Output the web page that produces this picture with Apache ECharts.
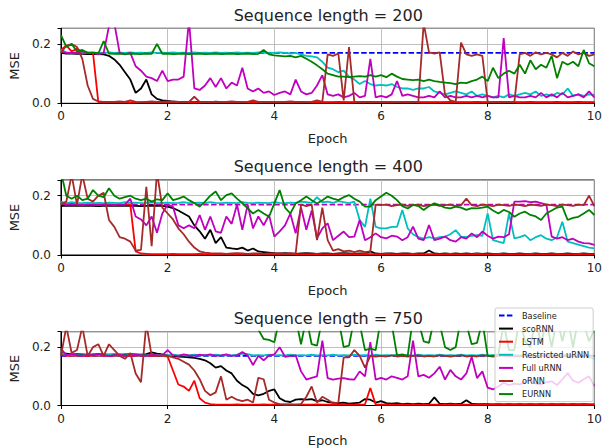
<!DOCTYPE html>
<html><head><meta charset="utf-8">
<script src="https://cdn.jsdelivr.net/npm/echarts@6/dist/echarts.min.js"></script>
<style>html,body{margin:0;padding:0;background:#fff}#c{width:605px;height:448px}</style>
</head><body><div id="c"></div><script>
// ---------- DATA ----------
const seriesNames = ['Baseline','scoRNN','LSTM','Restricted uRNN','Full uRNN','oRNN','EURNN'];
const titles = ['Sequence length = 200','Sequence length = 400','Sequence length = 750'];
const xTicks = [0,2,4,6,8,10];
const yTicks = [0,0.2];
const epochs = Array.from({length:101},(_,i)=>+(i/10).toFixed(1));
const baselineX = [0,10];
const baseline200 = [0.17,0.17];
const baseline400 = [0.17,0.17];
const baseline750 = [0.17,0.17];

// Sequence length 200
const sco200 = [0.170,0.168,0.168,0.167,0.167,0.166,0.166,0.166,0.165,0.160,
0.148,0.130,0.105,0.080,0.035,0.050,0.080,0.030,0.015,0.010,
0.008,0.006,0.005,0.005,0.004,0.004,0.005,0.004,0.003,0.006,
0.004,0.003,0.003,0.004,0.003,0.003,0.004,0.003,0.003,0.003,
0.003,0.004,0.003,0.003,0.003,0.004,0.003,0.003,0.003,0.003,
0.003,0.003,0.004,0.003,0.003,0.003,0.003,0.004,0.003,0.003,
0.003,0.004,0.003,0.003,0.003,0.003,0.004,0.003,0.003,0.003,
0.003,0.003,0.003,0.004,0.003,0.003,0.003,0.003,0.004,0.003,
0.003,0.003,0.004,0.003,0.003,0.003,0.003,0.003,0.004,0.003,
0.003,0.003,0.003,0.004,0.003,0.003,0.003,0.004,0.003,0.003,
0.003];
const lstm200 = [0.180,0.195,0.175,0.185,0.172,0.170,0.170,0.004,0.003,0.004,
0.003,0.003,0.004,0.003,0.003,0.003,0.004,0.003,0.003,0.003,
0.003,0.004,0.003,0.003,0.003,0.003,0.004,0.003,0.003,0.003,
0.003,0.003,0.003,0.004,0.003,0.003,0.003,0.003,0.004,0.003,
0.003,0.003,0.004,0.003,0.003,0.003,0.003,0.003,0.004,0.003,
0.003,0.003,0.003,0.004,0.003,0.003,0.003,0.004,0.003,0.003,
0.003,0.004,0.003,0.003,0.003,0.003,0.004,0.003,0.003,0.003,
0.003,0.003,0.003,0.004,0.003,0.003,0.003,0.003,0.004,0.003,
0.003,0.003,0.004,0.003,0.003,0.003,0.003,0.003,0.004,0.003,
0.003,0.003,0.003,0.004,0.003,0.003,0.003,0.004,0.003,0.003,
0.003];
const restr200 = [0.180,0.172,0.170,0.172,0.170,0.172,0.170,0.171,0.170,0.172,
0.170,0.171,0.170,0.172,0.170,0.171,0.170,0.172,0.170,0.171,
0.170,0.172,0.170,0.171,0.170,0.172,0.170,0.171,0.170,0.172,
0.170,0.171,0.170,0.172,0.170,0.171,0.170,0.172,0.170,0.171,
0.170,0.172,0.170,0.168,0.170,0.165,0.160,0.158,0.155,0.140,
0.120,0.115,0.105,0.110,0.090,0.080,0.065,0.075,0.065,0.060,
0.062,0.060,0.065,0.055,0.050,0.050,0.045,0.050,0.050,0.055,
0.040,0.035,0.030,0.035,0.040,0.035,0.030,0.040,0.025,0.030,
0.025,0.020,0.025,0.020,0.030,0.025,0.030,0.035,0.030,0.040,
0.025,0.030,0.025,0.035,0.030,0.050,0.025,0.030,0.025,0.030,
0.028];
const full200 = [0.175,0.170,0.170,0.170,0.175,0.170,0.170,0.165,0.170,0.260,
0.270,0.170,0.165,0.170,0.125,0.110,0.090,0.085,0.075,0.110,
0.075,0.080,0.080,0.090,0.280,0.050,0.045,0.060,0.085,0.055,
0.085,0.050,0.070,0.060,0.120,0.050,0.040,0.050,0.035,0.040,
0.028,0.035,0.040,0.030,0.080,0.040,0.030,0.035,0.060,0.095,
0.030,0.025,0.030,0.020,0.025,0.035,0.020,0.025,0.150,0.020,
0.025,0.020,0.030,0.075,0.025,0.030,0.025,0.020,0.020,0.025,
0.020,0.040,0.020,0.025,0.020,0.020,0.025,0.020,0.025,0.020,
0.025,0.020,0.020,0.220,0.020,0.025,0.020,0.020,0.025,0.020,
0.035,0.020,0.030,0.020,0.035,0.020,0.025,0.030,0.020,0.040,
0.020];
const orn200 = [0.170,0.195,0.200,0.190,0.150,0.060,0.015,0.006,0.005,0.005,
0.005,0.006,0.005,0.010,0.005,0.004,0.005,0.006,0.005,0.005,
0.006,0.005,0.005,0.004,0.005,0.022,0.005,0.004,0.005,0.005,
0.004,0.005,0.006,0.005,0.004,0.005,0.010,0.005,0.004,0.005,
0.005,0.004,0.005,0.006,0.005,0.005,0.004,0.005,0.010,0.005,
0.165,0.160,0.168,0.010,0.190,0.005,0.005,0.004,0.005,0.005,
0.004,0.005,0.005,0.004,0.005,0.005,0.004,0.005,0.270,0.172,
0.168,0.172,0.030,0.010,0.005,0.205,0.165,0.160,0.165,0.160,
0.005,0.004,0.005,0.005,0.004,0.005,0.165,0.170,0.160,0.172,
0.165,0.170,0.165,0.155,0.170,0.160,0.175,0.165,0.170,0.160,
0.165];
const eurnn200 = [0.230,0.190,0.200,0.175,0.180,0.170,0.172,0.168,0.210,0.168,
0.167,0.168,0.166,0.168,0.167,0.166,0.168,0.167,0.200,0.167,
0.168,0.166,0.167,0.168,0.166,0.167,0.168,0.166,0.167,0.168,
0.166,0.167,0.168,0.166,0.167,0.168,0.166,0.167,0.180,0.165,
0.162,0.160,0.158,0.160,0.155,0.160,0.150,0.140,0.128,0.115,
0.100,0.095,0.090,0.090,0.088,0.090,0.092,0.090,0.095,0.090,
0.095,0.088,0.100,0.090,0.082,0.080,0.078,0.080,0.075,0.080,
0.075,0.072,0.070,0.068,0.065,0.070,0.068,0.075,0.080,0.090,
0.075,0.120,0.085,0.100,0.110,0.100,0.130,0.100,0.145,0.115,
0.130,0.120,0.160,0.085,0.140,0.130,0.140,0.125,0.180,0.135,
0.125];

// Sequence length 400
const sco400 = [0.166,0.167,0.166,0.166,0.167,0.166,0.166,0.165,0.166,0.167,
0.166,0.166,0.167,0.166,0.166,0.165,0.166,0.167,0.166,0.166,
0.163,0.158,0.150,0.140,0.130,0.100,0.080,0.055,0.085,0.040,
0.060,0.025,0.022,0.020,0.025,0.015,0.022,0.012,0.010,0.008,
0.006,0.005,0.006,0.005,0.004,0.005,0.006,0.005,0.004,0.005,
0.005,0.004,0.005,0.006,0.005,0.004,0.005,0.005,0.012,0.005,
0.004,0.005,0.005,0.004,0.005,0.005,0.004,0.005,0.005,0.015,
0.005,0.004,0.005,0.004,0.005,0.004,0.005,0.004,0.005,0.004,
0.005,0.004,0.004,0.005,0.004,0.004,0.005,0.004,0.004,0.005,
0.004,0.004,0.005,0.004,0.004,0.005,0.004,0.004,0.005,0.004,
0.004];
const lstm400 = [0.175,0.170,0.170,0.170,0.170,0.170,0.170,0.170,0.170,0.170,
0.170,0.170,0.170,0.170,0.012,0.005,0.004,0.003,0.003,0.003,
0.003,0.004,0.003,0.003,0.003,0.003,0.004,0.003,0.003,0.003,
0.003,0.003,0.003,0.004,0.003,0.003,0.003,0.003,0.004,0.003,
0.003,0.003,0.004,0.003,0.003,0.003,0.003,0.003,0.004,0.003,
0.003,0.003,0.003,0.004,0.003,0.003,0.003,0.004,0.003,0.003,
0.003,0.004,0.003,0.003,0.003,0.003,0.004,0.003,0.003,0.003,
0.003,0.003,0.003,0.004,0.003,0.003,0.003,0.003,0.004,0.003,
0.003,0.003,0.004,0.003,0.003,0.003,0.003,0.003,0.004,0.003,
0.003,0.003,0.003,0.004,0.003,0.003,0.003,0.004,0.003,0.003,
0.003];
const restr400 = [0.180,0.175,0.178,0.176,0.175,0.177,0.175,0.176,0.175,0.177,
0.176,0.175,0.178,0.176,0.177,0.175,0.176,0.178,0.175,0.176,
0.177,0.175,0.176,0.178,0.175,0.176,0.177,0.175,0.178,0.176,
0.175,0.177,0.176,0.175,0.178,0.176,0.175,0.177,0.176,0.175,
0.178,0.176,0.175,0.177,0.176,0.180,0.178,0.176,0.195,0.178,
0.180,0.176,0.182,0.178,0.175,0.180,0.118,0.095,0.190,0.095,
0.090,0.090,0.095,0.095,0.152,0.090,0.070,0.060,0.055,0.060,
0.056,0.060,0.062,0.070,0.084,0.062,0.060,0.065,0.067,0.065,
0.140,0.050,0.045,0.040,0.140,0.056,0.060,0.067,0.050,0.060,
0.067,0.055,0.050,0.060,0.112,0.045,0.040,0.035,0.030,0.025,
0.022];
const full400 = [0.175,0.170,0.172,0.170,0.168,0.170,0.170,0.168,0.170,0.170,
0.168,0.170,0.170,0.190,0.130,0.120,0.100,0.130,0.075,0.140,
0.170,0.163,0.100,0.090,0.100,0.090,0.135,0.085,0.130,0.080,
0.075,0.130,0.105,0.170,0.085,0.170,0.090,0.130,0.100,0.135,
0.062,0.080,0.100,0.140,0.073,0.160,0.085,0.150,0.056,0.090,
0.107,0.050,0.065,0.079,0.060,0.062,0.118,0.050,0.060,0.073,
0.060,0.056,0.065,0.062,0.050,0.060,0.096,0.055,0.050,0.101,
0.050,0.055,0.062,0.050,0.045,0.060,0.055,0.073,0.060,0.079,
0.065,0.055,0.062,0.060,0.070,0.180,0.180,0.182,0.178,0.180,
0.175,0.170,0.062,0.055,0.060,0.050,0.055,0.045,0.040,0.039,
0.034];
const orn400 = [0.170,0.180,0.270,0.170,0.270,0.190,0.180,0.200,0.210,0.118,
0.095,0.060,0.055,0.045,0.015,0.017,0.230,0.030,0.280,0.160,
0.140,0.120,0.090,0.070,0.045,0.025,0.012,0.008,0.006,0.005,
0.005,0.004,0.005,0.006,0.005,0.004,0.005,0.005,0.004,0.005,
0.005,0.005,0.004,0.005,0.005,0.170,0.165,0.170,0.050,0.160,
0.050,0.015,0.020,0.012,0.015,0.010,0.015,0.010,0.012,0.170,
0.168,0.170,0.165,0.168,0.170,0.166,0.168,0.170,0.165,0.168,
0.170,0.166,0.168,0.170,0.165,0.168,0.190,0.168,0.165,0.170,
0.168,0.165,0.170,0.168,0.166,0.170,0.168,0.165,0.170,0.168,
0.166,0.170,0.168,0.165,0.170,0.168,0.166,0.170,0.168,0.200,
0.165];
const eurnn400 = [0.280,0.200,0.190,0.200,0.185,0.190,0.219,0.200,0.195,0.225,
0.200,0.190,0.195,0.200,0.190,0.185,0.190,0.180,0.188,0.185,
0.208,0.185,0.190,0.197,0.185,0.175,0.163,0.180,0.200,0.214,
0.185,0.202,0.208,0.190,0.175,0.157,0.140,0.152,0.140,0.129,
0.174,0.219,0.160,0.140,0.174,0.185,0.197,0.185,0.174,0.185,
0.197,0.190,0.185,0.195,0.202,0.190,0.180,0.163,0.163,0.185,
0.197,0.210,0.200,0.185,0.165,0.157,0.169,0.165,0.152,0.165,
0.174,0.168,0.160,0.157,0.163,0.160,0.152,0.158,0.157,0.160,
0.163,0.150,0.140,0.152,0.145,0.129,0.140,0.146,0.135,0.130,
0.118,0.140,0.150,0.160,0.163,0.118,0.125,0.129,0.140,0.152,
0.135];

// Sequence length 750
const sco750 = [0.180,0.178,0.175,0.176,0.175,0.174,0.175,0.176,0.175,0.174,
0.175,0.174,0.175,0.176,0.175,0.174,0.176,0.182,0.178,0.175,
0.172,0.170,0.168,0.167,0.165,0.163,0.160,0.155,0.145,0.130,
0.135,0.120,0.110,0.085,0.070,0.060,0.040,0.035,0.040,0.050,
0.055,0.025,0.015,0.012,0.020,0.022,0.020,0.022,0.015,0.018,
0.012,0.010,0.008,0.010,0.006,0.008,0.010,0.022,0.020,0.010,
0.015,0.008,0.006,0.008,0.005,0.006,0.005,0.006,0.005,0.006,
0.028,0.006,0.005,0.006,0.005,0.006,0.018,0.006,0.005,0.005,
0.005,0.004,0.005,0.004,0.005,0.004,0.005,0.004,0.005,0.004,
0.005,0.004,0.005,0.004,0.005,0.004,0.005,0.004,0.005,0.004,
0.004];
const lstm750 = [0.175,0.170,0.170,0.170,0.170,0.170,0.170,0.170,0.170,0.170,
0.170,0.170,0.170,0.170,0.170,0.170,0.170,0.170,0.170,0.170,
0.168,0.120,0.072,0.065,0.050,0.085,0.025,0.010,0.005,0.003,
0.003,0.003,0.003,0.004,0.003,0.003,0.003,0.003,0.004,0.003,
0.003,0.003,0.004,0.003,0.003,0.003,0.003,0.003,0.004,0.003,
0.003,0.003,0.003,0.004,0.003,0.003,0.003,0.004,0.060,0.003,
0.003,0.004,0.003,0.003,0.003,0.003,0.004,0.003,0.003,0.003,
0.003,0.003,0.003,0.004,0.003,0.003,0.003,0.003,0.004,0.003,
0.003,0.003,0.004,0.003,0.003,0.003,0.003,0.003,0.004,0.003,
0.003,0.003,0.003,0.004,0.003,0.003,0.003,0.004,0.003,0.003,
0.003];
const restr750 = [0.180,0.174,0.172,0.173,0.172,0.174,0.172,0.173,0.172,0.174,
0.172,0.173,0.172,0.174,0.172,0.173,0.172,0.174,0.172,0.173,
0.172,0.174,0.172,0.173,0.172,0.174,0.172,0.173,0.172,0.174,
0.172,0.173,0.172,0.174,0.178,0.176,0.172,0.173,0.172,0.174,
0.172,0.173,0.172,0.174,0.172,0.173,0.172,0.174,0.172,0.173,
0.172,0.174,0.172,0.173,0.172,0.174,0.172,0.173,0.172,0.174,
0.172,0.173,0.172,0.174,0.172,0.173,0.172,0.174,0.172,0.173,
0.172,0.174,0.172,0.173,0.172,0.174,0.172,0.173,0.172,0.174,
0.172,0.173,0.172,0.174,0.172,0.173,0.172,0.174,0.172,0.173,
0.172,0.174,0.172,0.173,0.172,0.174,0.172,0.173,0.170,0.165,
0.160];
const full750 = [0.195,0.172,0.175,0.172,0.170,0.174,0.172,0.175,0.172,0.170,
0.172,0.175,0.170,0.172,0.174,0.172,0.170,0.175,0.172,0.172,
0.190,0.172,0.170,0.175,0.172,0.170,0.174,0.172,0.175,0.170,
0.172,0.175,0.170,0.172,0.183,0.172,0.139,0.170,0.155,0.172,
0.175,0.200,0.167,0.170,0.172,0.117,0.089,0.095,0.100,0.222,
0.094,0.089,0.092,0.094,0.090,0.089,0.117,0.100,0.217,0.089,
0.095,0.089,0.100,0.095,0.089,0.100,0.222,0.100,0.105,0.095,
0.110,0.133,0.089,0.122,0.100,0.089,0.110,0.167,0.094,0.117,
0.061,0.055,0.065,0.078,0.070,0.075,0.072,0.080,0.089,0.075,
0.072,0.080,0.083,0.070,0.090,0.111,0.085,0.078,0.090,0.100,
0.067];
const orn750 = [0.170,0.270,0.180,0.190,0.270,0.170,0.200,0.210,0.170,0.210,
0.190,0.170,0.160,0.180,0.110,0.080,0.280,0.170,0.170,0.172,
0.170,0.165,0.160,0.150,0.140,0.120,0.090,0.050,0.035,0.045,
0.100,0.020,0.030,0.020,0.015,0.020,0.010,0.095,0.090,0.020,
0.010,0.005,0.003,0.004,0.003,0.005,0.030,0.065,0.010,0.030,
0.020,0.008,0.010,0.165,0.165,0.190,0.170,0.130,0.170,0.168,
0.170,0.168,0.172,0.168,0.170,0.168,0.170,0.172,0.168,0.170,
0.168,0.172,0.170,0.168,0.170,0.172,0.168,0.170,0.168,0.172,
0.170,0.168,0.170,0.172,0.168,0.170,0.168,0.172,0.170,0.168,
0.170,0.172,0.168,0.170,0.168,0.172,0.170,0.168,0.170,0.172,
0.170];
const eurnn750 = [0.300,0.320,0.290,0.330,0.300,0.310,0.290,0.320,0.300,0.310,
0.290,0.320,0.300,0.330,0.290,0.310,0.300,0.320,0.290,0.300,
0.310,0.290,0.320,0.300,0.310,0.290,0.330,0.300,0.310,0.290,
0.320,0.300,0.310,0.290,0.320,0.300,0.310,0.260,0.228,0.225,
0.217,0.300,0.320,0.280,0.300,0.210,0.300,0.210,0.205,0.300,
0.320,0.290,0.300,0.200,0.205,0.300,0.280,0.190,0.195,0.190,
0.300,0.310,0.280,0.172,0.175,0.170,0.300,0.290,0.220,0.215,
0.300,0.280,0.200,0.190,0.200,0.300,0.280,0.210,0.215,0.290,
0.170,0.170,0.175,0.280,0.190,0.190,0.300,0.220,0.200,0.300,
0.210,0.290,0.200,0.300,0.220,0.300,0.200,0.300,0.280,0.220,
0.260];

// ---------- LAYOUT / STYLE ----------
const FONT = 'DejaVu Sans';
const colors = {'Baseline':'#0000ff','scoRNN':'#000000','LSTM':'#ff0000','Restricted uRNN':'#00bfbf','Full uRNN':'#bf00bf','oRNN':'#a52a2a','EURNN':'#008000'};
const panels = [
  {title:titles[0], baseline:baseline200, baseColor:'#0000ff', vals:[sco200,lstm200,restr200,full200,orn200,eurnn200]},
  {title:titles[1], baseline:baseline400, baseColor:'#bf00bf', vals:[sco400,lstm400,restr400,full400,orn400,eurnn400]},
  {title:titles[2], baseline:baseline750, baseColor:'#0000ff', vals:[sco750,lstm750,restr750,full750,orn750,eurnn750]}
];
const gridTops = [28.3, 180, 331.7];
const GL = 60, GW = 536.5, GH = 75, YMAX = 0.253, LW = 1.8;

const grids=[], xAxes=[], yAxes=[], series=[], graphics=[];
panels.forEach((p,i)=>{
  grids.push({left:GL, top:gridTops[i], width:GW, height:GH, show:true, borderColor:'#000', borderWidth:1, backgroundColor:'rgba(0,0,0,0)'});
  xAxes.push({gridIndex:i, type:'value', min:0, max:10, interval:2,
    axisLine:{show:true, onZero:false, lineStyle:{color:'#000', width:1}},
    axisTick:{show:true, length:3.5, lineStyle:{color:'#000', width:1}},
    axisLabel:{fontSize:12, color:'#222', margin:7, fontFamily:FONT, formatter:v=>String(v)},
    splitLine:{show:true, lineStyle:{color:'#b0b0b0', width:0.8}},
    name:'Epoch', nameLocation:'middle', nameGap:28.5, nameTextStyle:{fontSize:13, color:'#222', fontFamily:FONT}});
  yAxes.push({gridIndex:i, type:'value', min:0, max:YMAX, interval:0.2,
    axisLine:{show:true, onZero:false, lineStyle:{color:'#000', width:1}},
    axisTick:{show:true, length:3.5, lineStyle:{color:'#000', width:1}},
    axisLabel:{fontSize:12, color:'#222', margin:10, fontFamily:FONT, showMaxLabel:true,
      formatter:v=> yTicks.some(t=>Math.abs(v-t)<1e-9) ? v.toFixed(1) : ''},
    splitLine:{show:true, lineStyle:{color:'#b0b0b0', width:0.8}},
    name:'MSE', nameLocation:'middle', nameGap:35, nameTextStyle:{fontSize:13, color:'#222', fontFamily:FONT}});
  series.push({type:'line', name:'Baseline', xAxisIndex:i, yAxisIndex:i, z:2, zlevel:0,
    data: baselineX.map((x,k)=>[x,p.baseline[k]]), symbol:'none', showSymbol:false, clip:true,
    color: colors['Baseline'],
    lineStyle:{width:LW, color:p.baseColor, type:[5.5,2.4]}, itemStyle:{color:colors['Baseline']},
    emphasis:{disabled:true}, animation:false, silent:true});
  seriesNames.slice(1).forEach((n,j)=>{
    const vals = p.vals[j];
    series.push({type:'line', name:n, xAxisIndex:i, yAxisIndex:i, z:2, zlevel:0,
      data: epochs.map((x,k)=>[x, vals[k]]), symbol:'none', showSymbol:false, clip:true,
      color:colors[n], lineStyle:{width:LW, color:colors[n]}, itemStyle:{color:colors[n]},
      emphasis:{disabled:true}, animation:false, silent:true});
  });
  graphics.push({type:'text', x:GL+GW/2, y:gridTops[i]-13.3, silent:true,
    style:{text:p.title, fontSize:16, fill:'#222', fontFamily:FONT, align:'center', verticalAlign:'middle'}});
});

const chart = echarts.init(document.getElementById('c'), null, {renderer:'svg', width:605, height:448});
chart.setOption({
  animation:false,
  backgroundColor:'#fff',
  textStyle:{fontFamily:FONT},
  grid:grids, xAxis:xAxes, yAxis:yAxes, series:series, graphic:graphics,
  legend:{data:seriesNames, orient:'vertical', left:495, top:308, z:50, itemWidth:14, itemHeight:9, itemGap:4.1,
    padding:[3,4,3,3], selectedMode:false,
    itemStyle:{opacity:0},
    lineStyle:{opacity:1},
    textStyle:{fontSize:8.2, color:'#222', fontFamily:FONT, padding:[0,0,0,4], lineHeight:9},
    backgroundColor:'rgba(255,255,255,0.8)', borderColor:'#cccccc', borderWidth:1, borderRadius:2}
});
</script></body></html>
